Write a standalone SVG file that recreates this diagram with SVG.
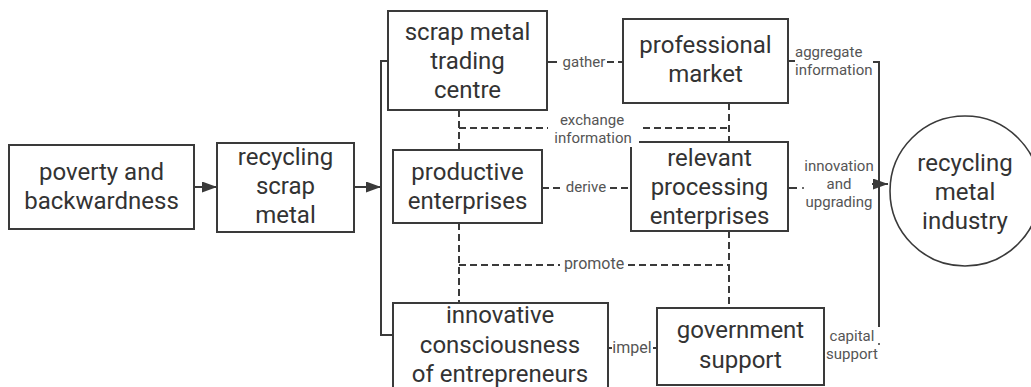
<svg xmlns="http://www.w3.org/2000/svg" width="1031" height="387" viewBox="0 0 1031 387">
<style>
.box{fill:#fff;stroke:#3a3a3a;stroke-width:2}
.t{font-family:Roboto,"Liberation Sans",sans-serif;font-size:24px;fill:#333;text-anchor:middle}
.lb{font-family:Roboto,"Liberation Sans",sans-serif;font-size:15px;fill:#555;text-anchor:middle}
.ln{fill:none;stroke:#3a3a3a;stroke-width:2}
.dl{fill:none;stroke:#3a3a3a;stroke-width:2;stroke-dasharray:7 4}
</style>
<defs>
<marker id="arr" markerUnits="userSpaceOnUse" markerWidth="15" markerHeight="11" refX="15" refY="5.5" orient="auto">
<path d="M0,0 L15,5.5 L0,11 z" fill="#3a3a3a"/>
</marker>
</defs>
<rect width="1031" height="387" fill="#fff"/>
<g id="n1"><rect class="box" x="9" y="145" width="185" height="84"/><text class="t" x="101.5" y="180">poverty and</text><text class="t" x="101.5" y="209">backwardness</text></g>
<g id="n2"><rect class="box" x="217" y="143" width="137" height="89"/><text class="t" x="285.5" y="165">recycling</text><text class="t" x="285.5" y="194">scrap</text><text class="t" x="285.5" y="223">metal</text></g>
<g id="n3"><rect class="box" x="388" y="11" width="159" height="99"/><text class="t" x="467.5" y="40">scrap metal</text><text class="t" x="467.5" y="69">trading</text><text class="t" x="467.5" y="98">centre</text></g>
<g id="n4"><rect class="box" x="623" y="19" width="165" height="84"/><text class="t" x="705.5" y="53">professional</text><text class="t" x="705.5" y="82">market</text></g>
<g id="n5"><rect class="box" x="393" y="150" width="149" height="73"/><text class="t" x="467.5" y="180">productive</text><text class="t" x="467.5" y="209">enterprises</text></g>
<g id="n6"><rect class="box" x="631" y="142" width="157" height="89"/><text class="t" x="709.5" y="166">relevant</text><text class="t" x="709.5" y="195">processing</text><text class="t" x="709.5" y="224">enterprises</text></g>
<g id="n7"><rect class="box" x="393" y="303" width="215" height="95"/><text class="t" x="500" y="323">innovative</text><text class="t" x="500" y="353">consciousness</text><text class="t" x="500" y="382">of entrepreneurs</text></g>
<g id="n8"><rect class="box" x="657" y="308" width="167" height="77"/><text class="t" x="740.5" y="338">government</text><text class="t" x="740.5" y="368">support</text></g>
<g id="n9"><circle cx="965" cy="191" r="75" fill="#fff" stroke="#3a3a3a" stroke-width="1.6"/><text class="t" x="965" y="171">recycling</text><text class="t" x="965" y="200">metal</text><text class="t" x="965" y="229">industry</text></g>
<g id="connectors">
<path class="ln" d="M194,187 H217" marker-end="url(#arr)"/>
<path class="ln" d="M354,187 H381" marker-end="url(#arr)"/>
<path class="ln" d="M388,61 H381 V335 H393"/>
<path class="ln" d="M547,62 H557"/>
<path class="dl" d="M607,62 H623"/>
<path class="ln" d="M788,61 H795"/>
<path class="ln" d="M873,62 H879 V327"/>
<path class="ln" d="M872,184 H888" marker-end="url(#arr)"/>
<path class="dl" d="M459,110 V150 M459,128 H548 M643,128 H729 M729,103 V142"/>
<path class="dl" d="M542,188 H562 M610,188 H631"/>
<path class="ln" d="M788,188 H797"/>
<circle cx="803" cy="188" r="1" fill="#3a3a3a"/>
<path class="dl" d="M459,223 V303 M459,265 H560 M628,265 H729 M729,231 V308"/>
<path class="ln" d="M608,348 H612 M653,348 H657"/>
<circle cx="879" cy="344" r="1" fill="#3a3a3a"/>
<rect x="547" y="131" width="92" height="16" fill="#fff"/>
<text class="lb" x="584" y="67">gather</text>
<text class="lb" x="795" y="57" style="text-anchor:start">aggregate</text>
<text class="lb" x="795" y="75" style="text-anchor:start">information</text>
<text class="lb" x="592" y="125">exchange</text>
<text class="lb" x="593" y="143">information</text>
<text class="lb" x="586" y="192">derive</text>
<text class="lb" x="839" y="171">innovation</text>
<text class="lb" x="839" y="189">and</text>
<text class="lb" x="839" y="207">upgrading</text>
<text class="lb" x="594" y="269" style="font-size:16px">promote</text>
<text class="lb" x="632" y="353" style="font-size:16px">impel</text>
<text class="lb" x="852" y="341">capital</text>
<text class="lb" x="852" y="359">support</text>
</g>
</svg>
